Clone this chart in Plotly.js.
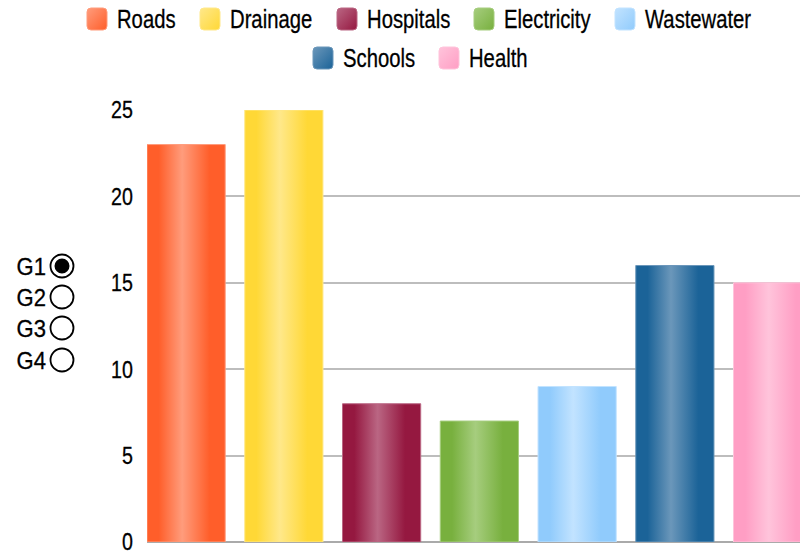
<!DOCTYPE html>
<html>
<head>
<meta charset="utf-8">
<script src="https://cdn.plot.ly/plotly-3.0.1.min.js"></script>
<style>
html,body{margin:0;padding:0;background:#fff;overflow:hidden;}
#chart{width:800px;height:553px;}
</style>
</head>
<body>
<div id="chart"></div>
<script>
// ---- data ----
const categories = ["Roads", "Drainage", "Hospitals", "Electricity", "Wastewater", "Schools", "Health"];
const values = [23, 25, 8, 7, 9, 16, 15];
const groupLabels = ["G1", "G2", "G3", "G4"];
const selectedGroup = 0;
const yTicks = [0, 5, 10, 15, 20, 25];

// ---- styles ----
const baseColors  = ["#FF5E2A", "#FFD836", "#951840", "#78B03E", "#90CBFC", "#1B6398", "#FF9EC4"];
const lightColors = ["#FF9C7C", "#FFE88A", "#BA6683", "#A6CD7E", "#C2E3FF", "#6B97BA", "#FFC4DB"];
const FONT = "'Liberation Sans', Arial, sans-serif";

// plot area in pixels
const PL = 147, PR = 800, PT = 110, PB = 542;
const px2x = p => (p - PL) / (PR - PL);
const py2y = p => (PB - p) / (PB - PT);

// legend placement (pixels)
const legendSwatchLeft = [87, 200, 337, 474, 615, 313, 439];
const legendRowY = [19, 19, 19, 19, 19, 58, 58];
const SW = 20, SH = 22, SR = 4;

const traces = categories.map((c, i) => ({
  type: "bar",
  x: [c],
  y: [values[i]],
  name: c,
  width: 0.8,
  marker: { color: baseColors[i], line: { color: lightColors[i], width: 1 } },
  hoverinfo: "x+y",
  showlegend: false
}));

const shapes = [];
const annotations = [];
const textScale = [];

function roundRectPath(l, t, w, h, r) {
  const X = p => px2x(p), Y = p => py2y(p);
  const R = l + w, B = t + h;
  return "M" + X(l + r) + "," + Y(t) +
    " L" + X(R - r) + "," + Y(t) + " Q" + X(R) + "," + Y(t) + " " + X(R) + "," + Y(t + r) +
    " L" + X(R) + "," + Y(B - r) + " Q" + X(R) + "," + Y(B) + " " + X(R - r) + "," + Y(B) +
    " L" + X(l + r) + "," + Y(B) + " Q" + X(l) + "," + Y(B) + " " + X(l) + "," + Y(B - r) +
    " L" + X(l) + "," + Y(t + r) + " Q" + X(l) + "," + Y(t) + " " + X(l + r) + "," + Y(t) + " Z";
}

// custom legend
categories.forEach((c, i) => {
  const l = legendSwatchLeft[i], cy = legendRowY[i];
  shapes.push({
    type: "path", xref: "paper", yref: "paper",
    path: roundRectPath(l, cy - SH / 2, SW, SH, SR),
    fillcolor: baseColors[i], line: { color: lightColors[i], width: 1 }, layer: "above",
    name: "legend" + i
  });
  annotations.push({
    xref: "paper", yref: "paper", x: px2x(l + 28), y: py2y(cy),
    xanchor: "left", yanchor: "middle", showarrow: false,
    text: c, font: { family: FONT, size: 25, color: "#000" }
  });
  textScale.push(0.81);
});

// radio group
const radioY = [266, 297, 328, 360];
groupLabels.forEach((g, i) => {
  annotations.push({
    xref: "paper", yref: "paper", x: px2x(48), y: py2y(radioY[i]),
    xanchor: "right", yanchor: "middle", showarrow: false,
    text: g, font: { family: FONT, size: 24, color: "#000" }
  });
  textScale.push(0.92);
  shapes.push({
    type: "circle", xref: "paper", yref: "paper", xsizemode: "pixel", ysizemode: "pixel",
    xanchor: px2x(62), yanchor: py2y(radioY[i]),
    x0: -11.5, x1: 11.5, y0: -11.5, y1: 11.5,
    line: { color: "#000", width: 1.8 }, fillcolor: "rgba(0,0,0,0)", layer: "above"
  });
  if (i === selectedGroup) {
    shapes.push({
      type: "circle", xref: "paper", yref: "paper", xsizemode: "pixel", ysizemode: "pixel",
      xanchor: px2x(62), yanchor: py2y(radioY[i]),
      x0: -7.5, x1: 7.5, y0: -7.5, y1: 7.5,
      line: { width: 0 }, fillcolor: "#000", layer: "above"
    });
  }
});

const layout = {
  width: 800, height: 553,
  margin: { l: PL, r: 800 - PR, t: PT, b: 553 - PB, pad: 0 },
  paper_bgcolor: "#fff", plot_bgcolor: "#fff",
  barmode: "overlay",
  showlegend: false,
  font: { family: FONT, size: 24, color: "#000" },
  xaxis: {
    type: "category", range: [-0.4, 6.28], showticklabels: false, ticks: "",
    showgrid: false, zeroline: false, showline: false, fixedrange: true
  },
  yaxis: {
    range: [0, 25], tickvals: yTicks, ticktext: yTicks.map(String),
    showgrid: true, gridcolor: "#bdbdbd", gridwidth: 2,
    zeroline: true, zerolinecolor: "#aaaaaa", zerolinewidth: 2,
    showline: false, ticks: "", ticklabelstandoff: 13, ticklabeloverflow: "allow",
    tickfont: { family: FONT, size: 24, color: "#000" }, fixedrange: true
  },
  shapes, annotations
};

function condense(el, anchor, s) {
  const b = el.getBBox();
  const ax = anchor === "left" ? b.x : anchor === "right" ? b.x + b.width : b.x + b.width / 2;
  const prev = el.getAttribute("transform") || "";
  el.setAttribute("transform", prev + " translate(" + ax + ",0) scale(" + s + ",1) translate(" + (-ax) + ",0)");
  el.style.stroke = "#000";
  el.style.strokeWidth = "0.3px";
}

Plotly.newPlot("chart", traces, layout, { displayModeBar: false, staticPlot: true }).then(gd => {
  const svg = gd.querySelector("svg.main-svg");
  const NS = "http://www.w3.org/2000/svg";
  let defs = svg.querySelector("defs");
  if (!defs) { defs = document.createElementNS(NS, "defs"); svg.insertBefore(defs, svg.firstChild); }
  const mk = (id, stops, x2, y2) => {
    const g = document.createElementNS(NS, "linearGradient");
    g.setAttribute("id", id);
    g.setAttribute("x1", "0"); g.setAttribute("y1", "0");
    g.setAttribute("x2", x2); g.setAttribute("y2", y2);
    stops.forEach(([o, c]) => {
      const s = document.createElementNS(NS, "stop");
      s.setAttribute("offset", o); s.setAttribute("stop-color", c);
      g.appendChild(s);
    });
    defs.appendChild(g);
  };
  categories.forEach((c, i) => {
    mk("barg" + i, [["0", baseColors[i]], ["0.15", baseColors[i]], ["0.45", lightColors[i]], ["0.8", baseColors[i]], ["1", baseColors[i]]], "1", "0");
    mk("legg" + i, [["0", lightColors[i]], ["1", baseColors[i]]], "1", "1");
  });
  gd.querySelectorAll(".trace.bars").forEach((t, i) => {
    t.querySelectorAll(".point path").forEach(p => { p.style.fill = "url(#barg" + i + ")"; });
  });
  const shapePaths = gd.querySelectorAll(".layer-above .shapelayer path");
  let k = 0;
  shapes.forEach((s, idx) => {
    if (s.name && s.name.startsWith("legend")) {
      const p = shapePaths[idx];
      if (p) p.style.fill = "url(#legg" + k + ")";
      k++;
    }
  });
  gd.querySelectorAll(".ytick text").forEach(t => condense(t, "right", 0.82));
  gd.querySelectorAll(".annotation").forEach(a => {
    const idx = +a.getAttribute("data-index");
    const t = a.querySelector("text.annotation-text");
    if (t) condense(t, annotations[idx].xanchor, textScale[idx]);
  });
});
</script>
</body>
</html>
